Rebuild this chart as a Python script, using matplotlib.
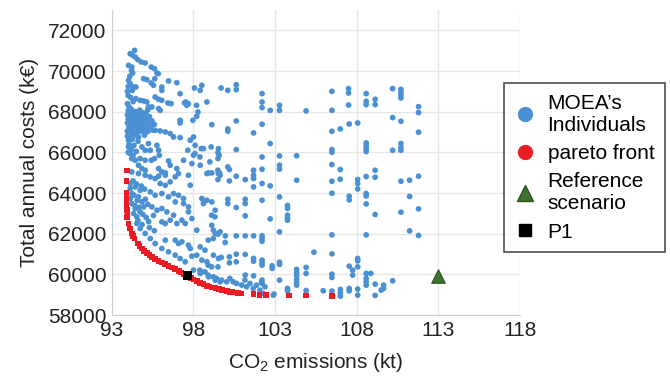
import numpy as np
import matplotlib
matplotlib.use("Agg")
from matplotlib import pyplot as plt
from matplotlib.lines import Line2D

plt.rcParams['font.family'] = ['Liberation Sans', 'DejaVu Sans']
plt.rcParams['mathtext.fontset'] = 'custom'
plt.rcParams['mathtext.rm'] = 'Liberation Sans'
plt.rcParams['mathtext.it'] = 'Liberation Sans:italic'

# MOEA individuals (CO2 kt, cost k€)
moea_points = [
    # left top cluster
    (94.39, 71022), (94.12, 70858), (94.27, 70776), (94.43, 70694), (94.59, 70563), (94.80, 70448), (95.04, 70399),
    (94.02, 70285), (94.22, 70203), (95.41, 70203), (95.61, 70121), (95.76, 69908), (94.27, 69908), (94.2, 70040),
    (94.94, 69629), (95.14, 69580), (95.41, 69416), (95.55, 69302), (95.63, 69630), (95.84, 69875),
    (94.02, 69547), (94.12, 69384), (94.33, 69220), (94.47, 69220), (93.95, 69000), (94.0, 68800),
    (94.1, 69750), (94.0, 69250), (94.25, 69050), (94.15, 68700), (94.3, 68500), (94.05, 68250),
    (96.06, 69220), (96.06, 69056), (96.47, 69515), (96.98, 69433),
    (98.06, 69171), (98.51, 69302), (98.41, 69056), (99.69, 69171),
    (97.18, 68892), (98.19, 68320),
    (94.47, 68646), (94.73, 68564), (94.94, 68532), (95.14, 68483), (93.95, 68400),
    (95.65, 68728), (95.86, 68614), (96.06, 68564),
    (95.45, 68237), (95.24, 68237), (95.2, 68106),
    (96.43, 68434), (96.63, 68401),
    (97.45, 68434), (97.53, 68483), (97.59, 68319), (97.69, 68401),
    (98.82, 68483), (95.96, 68073), (95.86, 68155),
    (98.27, 67991), (98.2, 67778), (97.96, 67582), (99.12, 67369),
    (97.18, 67582), (97.18, 67451),
    # dense blob
    (94.0, 68050), (94.2, 68120), (94.45, 68000), (94.7, 68080), (94.9, 67950), (95.1, 67900),
    (93.95, 67850), (94.15, 67800), (94.35, 67880), (94.6, 67780), (94.85, 67820), (95.05, 67720), (95.3, 67760),
    (94.0, 67650), (94.25, 67600), (94.5, 67680), (94.75, 67560), (95.0, 67600), (95.2, 67520), (95.45, 67560),
    (93.95, 67450), (94.2, 67400), (94.4, 67480), (94.65, 67380), (94.9, 67420), (95.15, 67350), (95.4, 67300), (95.6, 67380),
    (94.05, 67250), (94.3, 67200), (94.55, 67260), (94.8, 67180), (95.05, 67220), (95.3, 67150), (95.5, 67100),
    (93.95, 67050), (94.15, 67080), (94.4, 66980), (94.7, 67050), (94.95, 66990),
    (94.1, 67950), (94.55, 67900), (94.3, 67700), (94.8, 67680), (94.1, 67520), (94.6, 67500), (95.1, 67460),
    (94.45, 67330), (94.9, 67300), (94.2, 67150), (94.65, 67120), (95.2, 67030), (94.3, 66900), (94.55, 66800),
    (95.0, 66850), (94.25, 66650), (94.6, 66550), (94.35, 66350), (94.2, 66150), (94.5, 66050), (94.3, 65850),
    (95.65, 67090), (95.96, 67058), (96.27, 67009), (96.57, 66927), (96.78, 66763), (97.18, 66730),
    (94.02, 67009), (94.22, 66845), (94.43, 66927), (94.63, 66763), (93.95, 66800), (94.05, 66400),
    (94.02, 66599), (94.02, 66271), (94.12, 65944), (94.0, 66000),
    (94.84, 66271), (95.04, 66108), (95.24, 66435), (95.35, 66108),
    (95.76, 66353), (95.86, 66108), (95.9, 65862),
    (97.8, 66599), (98.0, 66763), (98.1, 66353),
    (97.65, 66108), (98.0, 65862), (98.47, 66189), (98.61, 66189), (99.08, 66271), (99.53, 66189), (99.57, 65862),
    (94.22, 65698), (94.43, 65616), (94.73, 65698), (95.04, 65616), (95.41, 65616), (95.61, 65698),
    (96.47, 65584), (96.57, 65371), (96.98, 65207), (97.39, 65616), (97.9, 65453), (98.41, 65371),
    (94.63, 65371), (94.84, 65207), (95.04, 65125), (95.86, 65207), (96.06, 65043), (96.27, 64994),
    (98.92, 64994), (99.12, 64994), (99.49, 65125),
    (98.39, 65780), (98.09, 65944), (99.0, 65535),
    # left middle
    (94.22, 65043), (94.63, 64961), (95.04, 64879), (95.35, 64797), (95.65, 64716), (95.86, 64830), (96.27, 64879),
    (95.96, 64470), (96.27, 64388), (96.57, 64552), (96.88, 64797), (97.08, 64961), (97.69, 64879), (97.8, 64388),
    (98.82, 64961), (99.63, 64879), (99.52, 64961),
    (94.12, 64470), (94.12, 64224), (94.22, 63978), (94.12, 63733), (94.22, 63487), (94.43, 63241), (94.33, 62996), (94.53, 62832),
    (94.43, 64306), (94.73, 64142), (94.63, 63815), (94.84, 63569), (94.94, 63323), (94.73, 63077),
    (95.35, 64060), (95.65, 63897), (96.06, 63978), (96.47, 63815), (96.78, 63978), (97.08, 63897), (97.39, 63733), (96.88, 63569),
    (95.45, 63323), (95.76, 63159), (96.06, 63241), (96.37, 63077), (96.78, 62914), (96.06, 62586), (96.27, 62504), (96.57, 62668),
    (96.98, 62504), (97.29, 62668), (97.49, 62504), (97.9, 62750),
    (97.39, 63487), (97.69, 63323), (97.69, 63077),
    (98.51, 63733), (98.82, 63651), (99.12, 63569), (98.61, 63487), (99.33, 63159),
    (99.12, 62422), (99.22, 62176), (99.33, 62013), (99.63, 62095), (99.11, 62914), (99.31, 62832),
    (96.27, 61685), (96.88, 61685), (97.08, 61521), (97.29, 61603), (97.69, 61439), (97.8, 61275), (98.2, 62177), (98.41, 61357),
    (98.51, 60703), (98.82, 60621), (98.2, 60948), (97.9, 60899), (99.22, 60948), (99.53, 60784),
    (98.9, 61685), (98.7, 61194), (99.21, 61767), (98.9, 60457), (99.11, 60375),
    (94.3, 64600), (94.5, 64450), (94.8, 64350), (95.0, 64200), (94.35, 63900), (94.55, 63650), (94.4, 63400), (94.65, 63300),
    (95.05, 63700), (95.2, 63450), (94.9, 62950), (95.1, 62800), (94.6, 62650), (94.85, 62450), (95.3, 62300), (95.6, 62150),
    (95.25, 62600), (95.55, 62900),
    # band just above the front
    (94.53, 62504), (94.73, 62259), (95.04, 62013), (95.35, 61767), (95.65, 61521), (96.06, 61275), (96.47, 61112),
    (96.88, 60948), (97.18, 60784), (97.49, 60621), (98.0, 60211), (98.41, 60047), (98.92, 59883), (99.33, 59719), (99.63, 59637),
    (98.39, 60211), (98.7, 60129), (98.9, 59966), (99.21, 59884), (99.41, 59802),
    # middle
    (100.1, 69056), (100.62, 69335), (100.62, 69090), (102.2, 68894), (102.2, 68482), (102.2, 68206), (102.7, 68074),
    (100.62, 67548), (102.2, 67386), (100.1, 67155), (100.1, 67042), (101.68, 66960), (102.7, 66437), (100.62, 66142),
    (102.2, 65779), (100.1, 65287), (100.2, 65160), (102.2, 65174), (101.68, 65125), (101.68, 64880), (101.68, 64717),
    (99.6, 64993), (100.62, 64830), (101.17, 64668), (100.2, 64600), (101.68, 64305), (102.2, 64472), (102.7, 64354),
    (99.5, 64668), (99.5, 65995), (99.5, 65700),
    (100.1, 63700), (100.1, 63489), (101.17, 63700), (101.17, 63489), (102.2, 63651), (100.62, 63293), (101.17, 62880),
    (102.7, 62733), (99.5, 61980), (99.95, 61897), (100.62, 61897), (101.17, 61897), (101.68, 61897), (102.2, 61897),
    (102.2, 61767), (102.2, 61630), (99.94, 61571),
    (99.7, 60836), (100.2, 60865), (100.62, 60998), (101.17, 60983), (101.68, 60786), (101.68, 60653), (102.2, 60703),
    (102.2, 60570), (102.2, 60457), (100.62, 60619), (100.2, 60570), (99.5, 60373), (102.82, 60423), (102.82, 60295),
    (102.2, 59720), (102.2, 59558), (101.68, 59931), (101.17, 59966), (102.93, 59032),
    (99.72, 59720), (100.03, 59638), (100.23, 59802), (100.43, 59638), (100.64, 59556), (100.95, 59474), (101.15, 59720),
    (101.25, 59392), (101.46, 59556), (101.66, 59310), (101.86, 59474), (102.07, 59228), (102.17, 59638), (102.38, 59392),
    (102.89, 58983), (102.27, 59065),
    # columns 103-106
    (103.27, 68319), (103.27, 68074), (103.27, 65830), (103.27, 65371), (103.27, 65180), (103.27, 63814), (103.27, 62094),
    (103.27, 60600), (103.27, 60491), (103.27, 59720),
    (103.76, 63390), (103.76, 63250), (103.76, 62914), (103.76, 62780), (103.76, 62668), (103.76, 59310), (103.76, 59190),
    (104.32, 65840), (104.32, 64634), (104.32, 60246), (104.32, 60080), (104.32, 59931), (104.32, 59760), (104.32, 59600), (104.32, 59474),
    (104.9, 68041), (104.9, 60344), (104.9, 60049), (104.9, 59210),
    (105.38, 61090), (105.95, 59195),
    # right columns
    (106.48, 69007), (106.48, 68074), (106.48, 67042), (106.48, 66142), (106.48, 66010), (106.48, 65405), (106.48, 64585),
    (106.48, 63995), (106.48, 61946), (106.48, 61012), (106.48, 60015), (106.48, 59853), (106.48, 59179),
    (106.99, 67155), (106.99, 65160), (106.99, 64683), (107.0, 59263), (107.0, 59096), (107.0, 58934),
    (107.5, 69140), (107.5, 68925), (107.5, 68334), (107.54, 67401), (107.54, 63848), (107.54, 63666), (107.54, 60408),
    (107.54, 59312), (107.54, 59194), (107.75, 60211), (107.75, 59966),
    (108.06, 67450), (108.06, 64668), (108.06, 64472), (108.06, 64207), (108.06, 60786), (108.06, 60668), (108.06, 60373),
    (108.06, 59278), (108.06, 58983),
    (108.58, 68894), (108.58, 68516), (108.58, 68353), (108.58, 66467), (108.58, 66320), (108.58, 66172), (108.58, 66044),
    (108.58, 64816), (108.58, 63979), (108.58, 63862), (108.58, 63469), (108.58, 61946), (108.58, 60049), (108.86, 60049),
    (108.58, 59804), (108.58, 59637), (108.58, 59474),
    (109.13, 68614), (109.13, 68353), (109.13, 65125), (109.13, 64781), (109.13, 62948), (109.13, 59523), (109.13, 58967),
    (109.5, 59228), (109.65, 59312), (109.65, 59474),
    (110.2, 69140), (110.2, 67715), (110.2, 66108), (110.2, 59686),
    (110.71, 69106), (110.71, 68958), (110.71, 68811), (110.71, 68678), (110.71, 67533), (110.71, 66437), (110.71, 66240),
    (110.71, 66108), (110.71, 64585), (110.71, 63061),
    (111.24, 64634), (111.24, 63832), (111.24, 62143),
    (111.79, 68255), (111.79, 67960), (111.79, 66993), (111.79, 64830), (111.79, 63224), (111.79, 61917),
]

# pareto front (CO2 kt, cost k€)
pareto_co2 = [93.92, 93.9, 93.9, 93.9, 93.9, 93.9, 93.92, 93.95, 93.92, 94.02, 94.12, 94.23, 94.3, 94.39, 94.59,
              94.7, 94.84, 94.98, 95.14, 95.3, 95.45, 95.65, 95.86, 96.06, 96.27, 96.47, 96.68, 96.88, 97.09,
              97.24, 97.39, 97.66, 97.83, 98.0, 98.2, 98.41, 98.62, 98.82, 98.98, 99.13, 99.35, 99.57, 99.75,
              99.9, 100.05, 100.2, 100.38, 100.56, 100.74, 100.92, 101.68, 102.05, 102.45, 103.85, 104.88, 106.48]
pareto_cost = [65110, 64600, 64020, 63830, 63570, 63330, 63180, 63000, 62830, 62505, 62260, 62015, 61890, 61769, 61523,
               61400, 61278, 61170, 61062, 60960, 60865, 60760, 60668, 60585, 60506, 60425, 60344, 60250, 60162,
               60090, 60015, 59916, 59835, 59755, 59670, 59587, 59515, 59440, 59400, 59361, 59320, 59278, 59245,
               59213, 59180, 59145, 59130, 59115, 59090, 59066, 59032, 58998, 58998, 58960, 58960, 58950]

ref_co2, ref_cost = 113.0, 59900
p1_co2, p1_cost = 97.65, 59930

xticks = [93, 98, 103, 108, 113, 118]
yticks = [58000, 60000, 62000, 64000, 66000, 68000, 70000, 72000]

moea = np.array(moea_points)

fig = plt.figure(figsize=(6.7, 3.76), dpi=100)
ax = fig.add_axes([0.167, 0.162, 0.609, 0.811])

ax.scatter(moea[:, 0], moea[:, 1], s=17, color='#4a90d2', edgecolors='none', zorder=3)
ax.scatter(pareto_co2, pareto_cost, s=17, marker='s', color='#ec1c24', edgecolors='none', zorder=4)
ax.scatter([ref_co2], [ref_cost], s=95, marker='^', color='#3f7130', edgecolors='#2d5220', linewidths=0.8, zorder=5)
ax.scatter([p1_co2], [p1_cost], s=40, marker='s', color='black', edgecolors='none', zorder=6)

ax.set_xlim(93, 118)
ax.set_ylim(58000, 73000)
ax.set_xticks(xticks)
ax.set_yticks(yticks)
ax.tick_params(length=0, labelsize=15, colors='#222222', pad=4)
ax.grid(True, color='#e6e6e6', linewidth=1)
ax.set_axisbelow(True)
for s in ['top', 'right']:
    ax.spines[s].set_visible(False)
for s in ['left', 'bottom']:
    ax.spines[s].set_color('#cccccc')

ax.set_xlabel('CO$_2$ emissions (kt)', fontsize=15, color='#222222', labelpad=8)
ax.set_ylabel('Total annual costs (k€)', fontsize=15, color='#222222', labelpad=6)

handles = [
    Line2D([], [], linestyle='none', marker='o', markersize=10, color='#4a90d2'),
    Line2D([], [], linestyle='none', marker='o', markersize=10, color='#ec1c24'),
    Line2D([], [], linestyle='none', marker='^', markersize=11, color='#3f7130', markeredgecolor='#2d5220'),
    Line2D([], [], linestyle='none', marker='s', markersize=9, color='black'),
]
labels = ['MOEA\u2019s\nIndividuals', 'pareto front', 'Reference\nscenario', 'P1']
leg = fig.legend(handles, labels, loc='upper left', bbox_to_anchor=(0.752, 0.779), fontsize=15,
                 frameon=True, fancybox=False, edgecolor='#222222', handlelength=1.0, handletextpad=0.6,
                 borderpad=0.5, labelspacing=0.45, borderaxespad=0)
leg.get_frame().set_linewidth(1.2)

fig.savefig('out.png', dpi=100)
